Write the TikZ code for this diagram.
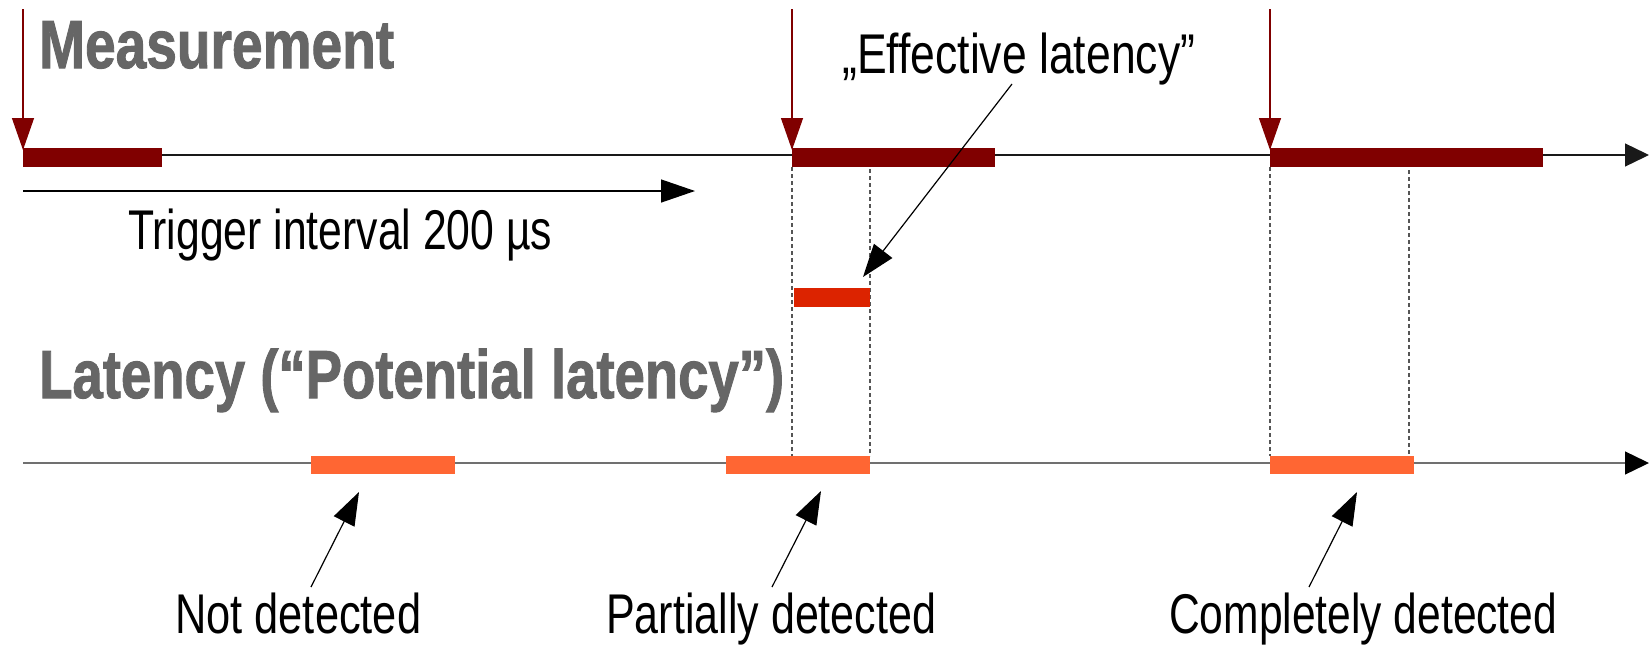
\documentclass[tikz,border=0pt]{standalone}
\usepackage{fontspec}
\setmainfont{Liberation Sans}
\newfontfamily\headfont[FakeBold=1.6]{Liberation Sans Bold}
\usepackage{graphicx}
\usetikzlibrary{arrows.meta}

\definecolor{trigred}{HTML}{800000}
\definecolor{effred}{HTML}{DC2300}
\definecolor{latorange}{HTML}{FF6633}
\definecolor{headgray}{HTML}{666666}
\definecolor{dashgray}{HTML}{555555}
\definecolor{axisgray}{HTML}{707070}

% squeeze a text horizontally to a given width, keeping its height
\newcommand\fitw[2]{\resizebox{#1}{\height}{#2}}

\tikzset{
  head/.style={anchor=base west, inner sep=0pt, text=headgray,
    font=\fontsize{68}{76}\headfont},
  lbl/.style={anchor=base west, inner sep=0pt, text=black,
    font=\fontsize{56}{64}\selectfont},
  axis/.style={line width=1.3pt, -{Triangle[length=24pt,width=23pt]}},
  trig/.style={draw=trigred, line width=1.3pt,
    -{Triangle[length=32pt,width=22pt]}, trigred},
  note/.style={draw=black, line width=1.2pt,
    -{Triangle[length=33pt,width=23pt]}},
  guide/.style={draw=dashgray, line width=1.2pt, dash pattern=on 4pt off 3pt},
  mbar/.style={fill=trigred},
  ebar/.style={fill=effred},
  lbar/.style={fill=latorange},
}

\begin{document}
\begin{tikzpicture}[x=1pt,y=-1pt]
\useasboundingbox (0,0) rectangle (1649,645);

% time axes
\coordinate (topL) at (23,155);
\coordinate (topR) at (1649,155);
\coordinate (botL) at (23,463);
\coordinate (botR) at (1649,463);
\draw[axis, draw=black!90, fill=black] (topL) -- (topR);
\draw[axis, draw=axisgray, -{Triangle[length=24pt,width=23pt,fill=black,color=black]}] (botL) -- (botR);

% trigger interval
\coordinate (tiL) at (23,191);
\coordinate (tiR) at (695,191);
\draw[line width=1.3pt, -{Triangle[length=34pt,width=23pt]}] (tiL) -- (tiR);

% dashed guides between the two axes
\coordinate (g1a) at (792,167);  \coordinate (g1b) at (792,456);
\coordinate (g2a) at (870,162);  \coordinate (g2b) at (870,456);
\coordinate (g3a) at (1270,167); \coordinate (g3b) at (1270,456);
\coordinate (g4a) at (1409,170); \coordinate (g4b) at (1409,460);
\draw[guide] (g1a) -- (g1b);
\draw[guide] (g2a) -- (g2b);
\draw[guide] (g3a) -- (g3b);
\draw[guide] (g4a) -- (g4b);

% measurement windows
\fill[mbar] (23,148) rectangle (162,167);
\fill[mbar] (792,148) rectangle (995,167);
\fill[mbar] (1270,148) rectangle (1543,167);

% effective latency
\fill[ebar] (794,288) rectangle (870,307);

% latency windows
\fill[lbar] (311,456) rectangle (455,474);
\fill[lbar] (726,456) rectangle (870,474);
\fill[lbar] (1270,456) rectangle (1414,474);

% trigger events
\coordinate (t1a) at (23,9);   \coordinate (t1b) at (23,150);
\coordinate (t2a) at (792,9);  \coordinate (t2b) at (792,150);
\coordinate (t3a) at (1270,9); \coordinate (t3b) at (1270,150);
\draw[trig] (t1a) -- (t1b);
\draw[trig] (t2a) -- (t2b);
\draw[trig] (t3a) -- (t3b);

% headings and labels
\node[head] (meas) at (39,68) {\fitw{355pt}{Measurement}};
\node[head] (lat) at (39,398) {\fitw{745pt}{Latency (“Potential latency”)}};
\node[lbl] (eff) at (842,73) {\fitw{353pt}{„Effective latency”}};
\node[lbl] (trigtxt) at (128,249) {\fitw{424pt}{Trigger interval 200 µs}};
\node[lbl] (notd) at (175,633) {\fitw{246pt}{Not detected}};
\node[lbl] (part) at (606,633) {\fitw{330pt}{Partially detected}};
\node[lbl] (comp) at (1169,633) {\fitw{388pt}{Completely detected}};

% pointers
\coordinate (effT) at (1012,84);  \coordinate (effH) at (863,277);
\coordinate (notT) at (311,587);  \coordinate (notH) at (359,492);
\coordinate (parT) at (772,587);  \coordinate (parH) at (821,491);
\coordinate (comT) at (1309,587); \coordinate (comH) at (1357,492);
\draw[note] (effT) -- (effH);
\draw[note] (notT) -- (notH);
\draw[note] (parT) -- (parH);
\draw[note] (comT) -- (comH);
\end{tikzpicture}
\end{document}
